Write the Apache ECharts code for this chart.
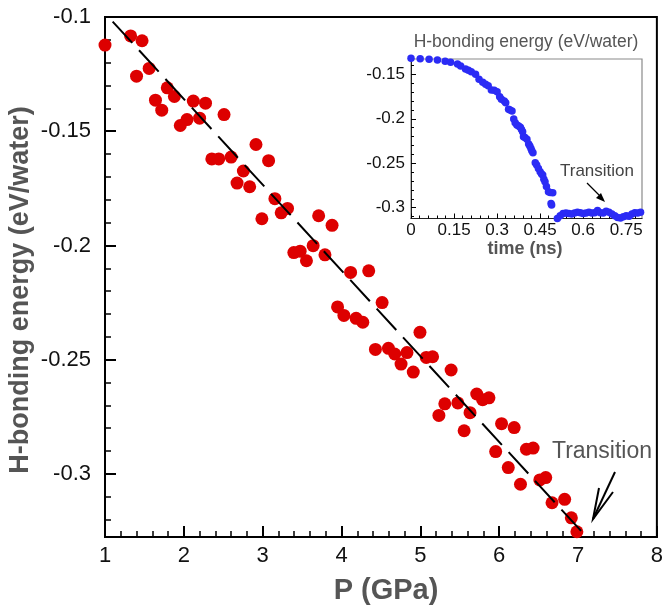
<!DOCTYPE html>
<html>
<head>
<meta charset="utf-8">
<script src="https://cdn.jsdelivr.net/npm/echarts@6/dist/echarts.min.js"></script>
<style>
html,body{margin:0;padding:0;background:#fff;}
#chart{width:666px;height:610px;}
</style>
</head>
<body>
<div id="chart"></div>
<script>
// ---- main panel: H-bonding energy vs pressure ----
const pressureGPa = [1.00,1.325,1.40,1.47,1.56,1.64,1.72,1.79,1.88,1.955,2.04,2.12,2.20,2.275,2.355,2.443,2.51,2.60,2.675,2.755,2.835,2.915,2.99,3.075,3.155,3.235,3.315,3.395,3.475,3.555,3.64,3.71,3.79,3.88,3.95,4.03,4.115,4.185,4.27,4.345,4.43,4.515,4.595,4.675,4.755,4.83,4.91,4.995,5.075,5.155,5.235,5.31,5.39,5.475,5.555,5.63,5.715,5.79,5.87,5.955,6.03,6.115,6.19,6.27,6.345,6.43,6.515,6.59,6.67,6.83,6.915,6.985];
const energyMain = [-0.1123,-0.1083,-0.1259,-0.1104,-0.1225,-0.1364,-0.1408,-0.1310,-0.1348,-0.1475,-0.1449,-0.1368,-0.1443,-0.1377,-0.1621,-0.1621,-0.1427,-0.1613,-0.1727,-0.1674,-0.1743,-0.1558,-0.1883,-0.1629,-0.1795,-0.1857,-0.1838,-0.2031,-0.2025,-0.2067,-0.2001,-0.1870,-0.2041,-0.1912,-0.2269,-0.2306,-0.2118,-0.2319,-0.2336,-0.2111,-0.2455,-0.2250,-0.2450,-0.2475,-0.2519,-0.2469,-0.2554,-0.2380,-0.2490,-0.2487,-0.2744,-0.2693,-0.2545,-0.2689,-0.2811,-0.2732,-0.2650,-0.2675,-0.2667,-0.2902,-0.2780,-0.2972,-0.2797,-0.3045,-0.2892,-0.2887,-0.3026,-0.3016,-0.3126,-0.3111,-0.3192,-0.3253];
const fitP = [1.097, 7.08];
const fitE = [-0.102, -0.3265];

const mainXRange = [1, 8];
const mainYRange = [-0.3276, -0.1];
const mainYMajorTicks = [-0.3,-0.25,-0.2,-0.15,-0.1];
const mainYMinorTicks = [-0.32,-0.31,-0.29,-0.28,-0.27,-0.26,-0.24,-0.23,-0.22,-0.21,-0.19,-0.18,-0.17,-0.16,-0.14,-0.13,-0.12,-0.11];

// ---- inset: H-bonding energy vs time ----
const timeNs = [0,0.032,0.063,0.092,0.119,0.138,0.162,0.173,0.19,0.20,0.21,0.225,0.237,0.25,0.26,0.269,0.28,0.29,0.30,0.309,0.315,0.325,0.33,0.34,0.345,0.352,0.358,0.363,0.369,0.375,0.381,0.385,0.389,0.392,0.397,0.404,0.41,0.414,0.418,0.421,0.425,0.433,0.438,0.444,0.45,0.455,0.459,0.463,0.467,0.472,0.479,0.485,0.488,0.49,0.494,
  0.51,0.52,0.53,0.54,0.55,0.56,0.57,0.58,0.59,0.60,0.61,0.62,0.63,0.64,0.65,0.66,0.67,0.68,0.69,0.70,0.71,0.72,0.73,0.74,0.75,0.76,0.77,0.78,0.79,0.80];
const energyInset = [-0.132,-0.1324,-0.1331,-0.1339,-0.1354,-0.1365,-0.1384,-0.1406,-0.144,-0.1455,-0.147,-0.150,-0.1556,-0.159,-0.1613,-0.1628,-0.1676,-0.168,-0.1695,-0.1751,-0.178,-0.180,-0.182,-0.1894,-0.190,-0.1913,-0.2003,-0.2045,-0.207,-0.208,-0.2096,-0.212,-0.2145,-0.2201,-0.221,-0.2231,-0.2284,-0.2305,-0.2333,-0.236,-0.2381,-0.2494,-0.252,-0.2558,-0.2595,-0.262,-0.2633,-0.268,-0.2708,-0.276,-0.282,-0.283,-0.2951,-0.297,-0.2831,
  -0.312,-0.309,-0.3065,-0.306,-0.3065,-0.307,-0.306,-0.305,-0.3055,-0.3065,-0.306,-0.305,-0.306,-0.3055,-0.303,-0.3055,-0.306,-0.304,-0.305,-0.307,-0.309,-0.311,-0.3115,-0.310,-0.309,-0.3095,-0.307,-0.3055,-0.306,-0.305];

const insetXRange = [0, 0.805];
const insetYRange = [-0.3121, -0.1328];
const insetXMajorTicks = [0,0.15,0.3,0.45,0.6,0.75];
const insetXMinorTicks = [0.03,0.06,0.09,0.12,0.18,0.21,0.24,0.27,0.33,0.36,0.39,0.42,0.48,0.51,0.54,0.57,0.63,0.66,0.69,0.72,0.78];
const insetYMajorTicks = [-0.3,-0.25,-0.2,-0.15];
const insetYMinorTicks = [-0.31,-0.29,-0.28,-0.27,-0.26,-0.24,-0.23,-0.22,-0.21,-0.19,-0.18,-0.17,-0.16,-0.14];

const FONT = '"Liberation Sans", Arial, sans-serif';
const mainPts = pressureGPa.map((p, i) => [p, energyMain[i]]);
const fitPts = fitP.map((p, i) => [p, fitE[i]]);
const insetPts = timeNs.map((t, i) => [t, energyInset[i]]);

function majorAxis(gridIndex, range, ticks, tickLen, fontSize, margin, lineW, pos, lineColor) {
  return {
    type: 'value', gridIndex, min: range[0], max: range[1], position: pos,
    axisLine: { show: true, onZero: false, lineStyle: { color: lineColor, width: lineW } },
    axisTick: { show: true, inside: true, length: tickLen, customValues: ticks, lineStyle: { color: '#000', width: lineW } },
    axisLabel: { show: true, customValues: ticks, fontSize, margin, color: '#111', fontFamily: FONT },
    splitLine: { show: false }
  };
}
function minorAxis(gridIndex, range, ticks, tickLen, pos, w) {
  return {
    type: 'value', gridIndex, min: range[0], max: range[1], position: pos,
    axisLine: { show: false, onZero: false },
    axisTick: { show: true, inside: true, length: tickLen, customValues: ticks, lineStyle: { color: '#000', width: w } },
    axisLabel: { show: false },
    splitLine: { show: false }
  };
}

const mainX = majorAxis(0, mainXRange, null, 11, 22, 8, 2, 'bottom', '#000');
delete mainX.axisTick.customValues; delete mainX.axisLabel.customValues;
mainX.interval = 1;
mainX.minorTick = { show: true, splitNumber: 5, length: 6, lineStyle: { color: '#000', width: 1.5 } };

const chart = echarts.init(document.getElementById('chart'), null, { renderer: 'canvas' });
chart.setOption({
  animation: false,
  backgroundColor: '#fff',
  grid: [
    { left: 105, right: 7, top: 17, bottom: 73, show: true, borderColor: '#000', borderWidth: 2, backgroundColor: 'transparent' },
    { left: 411, right: 24, top: 59, bottom: 391.5, show: true, borderColor: '#8a8a8a', borderWidth: 1.2, backgroundColor: '#fff' }
  ],
  xAxis: [
    mainX,
    majorAxis(1, insetXRange, insetXMajorTicks, 5, 17, 3, 1, 'bottom', '#222'),
    minorAxis(1, insetXRange, insetXMinorTicks, 3, 'bottom', 1)
  ],
  yAxis: [
    majorAxis(0, mainYRange, mainYMajorTicks, 11, 22, 14, 2, 'left', '#000'),
    minorAxis(0, mainYRange, mainYMinorTicks, 6, 'left', 1.5),
    majorAxis(1, insetYRange, insetYMajorTicks, 5, 17, 6, 1, 'left', '#222'),
    minorAxis(1, insetYRange, insetYMinorTicks, 3, 'left', 1)
  ],
  series: [
    { type: 'line', xAxisIndex: 0, yAxisIndex: 0, data: fitPts, symbol: 'none', silent: true,
      lineStyle: { color: '#000', width: 2, type: [29, 10] }, z: 3 },
    { type: 'scatter', xAxisIndex: 0, yAxisIndex: 0, data: mainPts, symbol: 'circle', symbolSize: 13,
      itemStyle: { color: '#dd0000', opacity: 1 }, clip: false, z: 2 },
    { type: 'scatter', xAxisIndex: 1, yAxisIndex: 2, data: insetPts, symbol: 'circle', symbolSize: 7.5,
      itemStyle: { color: '#2b2bf5', opacity: 1 }, clip: false, z: 4 }
  ],
  graphic: [
    { type: 'text', x: 21, y: 290, rotation: Math.PI / 2, z: 100,
      style: { text: 'H-bonding energy (eV/water)', font: 'bold 27px ' + FONT, fill: '#555',
               align: 'center', verticalAlign: 'middle', textAlign: 'center', textVerticalAlign: 'middle' } },
    { type: 'text', x: 386, y: 591, z: 100,
      style: { text: 'P (GPa)', font: 'bold 29px ' + FONT, fill: '#555',
               align: 'center', verticalAlign: 'middle', textAlign: 'center', textVerticalAlign: 'middle' } },
    { type: 'text', x: 602, y: 452, z: 100,
      style: { text: 'Transition', font: '23px ' + FONT, fill: '#555',
               align: 'center', verticalAlign: 'middle', textAlign: 'center', textVerticalAlign: 'middle' } },
    { type: 'polyline', z: 100, shape: { points: [[615, 472], [593, 519]] }, style: { stroke: '#000', lineWidth: 2, fill: null } },
    { type: 'polyline', z: 100, shape: { points: [[599, 488], [593, 519], [613, 492]] }, style: { stroke: '#000', lineWidth: 2, fill: null } },
    { type: 'text', x: 526, y: 42, z: 100,
      style: { text: 'H-bonding energy (eV/water)', font: '17.5px ' + FONT, fill: '#555',
               align: 'center', verticalAlign: 'middle', textAlign: 'center', textVerticalAlign: 'middle' } },
    { type: 'text', x: 525, y: 249, z: 100,
      style: { text: 'time (ns)', font: 'bold 18px ' + FONT, fill: '#555',
               align: 'center', verticalAlign: 'middle', textAlign: 'center', textVerticalAlign: 'middle' } },
    { type: 'text', x: 597, y: 171, z: 100,
      style: { text: 'Transition', font: '17px ' + FONT, fill: '#444',
               align: 'center', verticalAlign: 'middle', textAlign: 'center', textVerticalAlign: 'middle' } },
    { type: 'polyline', z: 100, shape: { points: [[587, 183], [601, 197]] }, style: { stroke: '#000', lineWidth: 1.2, fill: null } },
    { type: 'polygon', z: 100, shape: { points: [[605, 202], [596, 198], [601, 193]] }, style: { fill: '#000', stroke: null } }
  ]
});
</script>
</body>
</html>
